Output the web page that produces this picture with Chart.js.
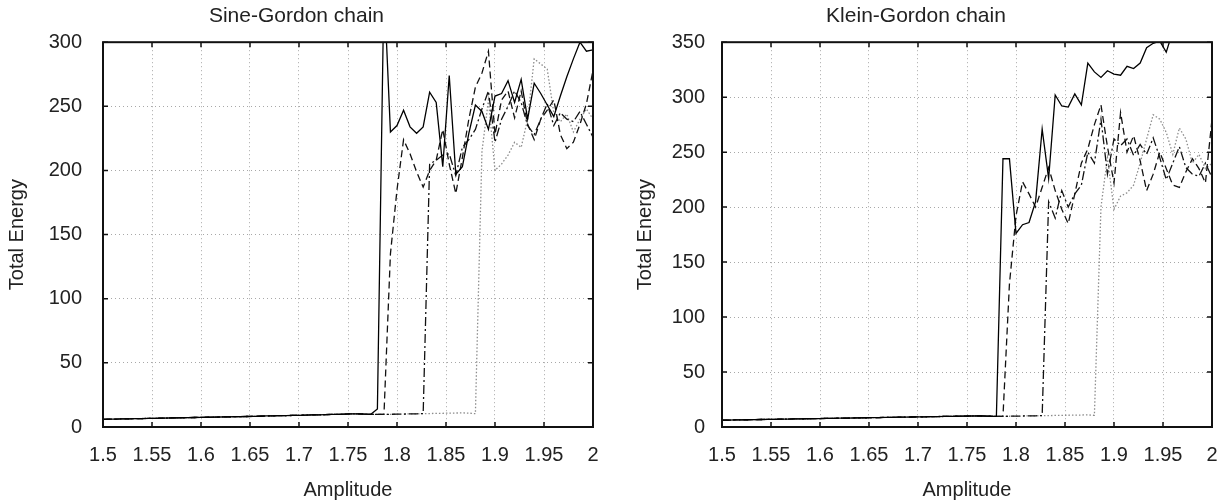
<!DOCTYPE html>
<html>
<head>
<meta charset="utf-8">
<script src="https://cdn.jsdelivr.net/npm/chart.js@4.4.0/dist/chart.umd.min.js"></script>
<style>
  html, body { margin: 0; padding: 0; background: #fff; overflow: hidden; }
  #wrap { position: relative; width: 1232px; height: 502px; overflow: hidden; }
  .panel { position: absolute; top: 0; }
  #sgBox { left: 0; }
  #kgBox { left: 620px; }
</style>
</head>
<body>
<div id="wrap">
  <div class="panel" id="sgBox"><canvas id="sgChart" width="674" height="502"></canvas></div>
  <div class="panel" id="kgBox"><canvas id="kgChart" width="666" height="502"></canvas></div>
</div>
<script>
// amplitude grid (shared by both panels)
const amplitude = [
  1.5, 1.5067, 1.5133, 1.52, 1.5267, 1.5333, 1.54, 1.5467, 1.5533, 1.56,
  1.5667, 1.5733, 1.58, 1.5867, 1.5933, 1.6, 1.6067, 1.6133, 1.62, 1.6267,
  1.6333, 1.64, 1.6467, 1.6533, 1.66, 1.6667, 1.6733, 1.68, 1.6867, 1.6933,
  1.7, 1.7067, 1.7133, 1.72, 1.7267, 1.7333, 1.74, 1.7467, 1.7533, 1.76,
  1.7667, 1.7733, 1.78, 1.7867, 1.7933, 1.8, 1.8067, 1.8133, 1.82, 1.8267,
  1.8333, 1.84, 1.8467, 1.8533, 1.86, 1.8667, 1.8733, 1.88, 1.8867, 1.8933,
  1.9, 1.9067, 1.9133, 1.92, 1.9267, 1.9333, 1.94, 1.9467, 1.9533, 1.96,
  1.9667, 1.9733, 1.98, 1.9867, 1.9933, 2.0
];
const xTicks = [1.5, 1.55, 1.6, 1.65, 1.7, 1.75, 1.8, 1.85, 1.9, 1.95, 2];

// low-amplitude energy, where all four curves lie on top of each other
const sgLow = [
  6.0, 6.1, 6.2, 6.3, 6.4, 6.5, 6.6, 6.7, 6.8, 6.9,
  7.0, 7.1, 7.2, 7.3, 7.4, 7.5, 7.6, 7.7, 7.8, 7.9,
  8.0, 8.1, 8.2, 8.3, 8.4, 8.6, 8.7, 8.8, 8.9, 9.0,
  9.1, 9.3, 9.4, 9.5, 9.6, 9.8, 9.9, 10.0, 10.2, 10.3,
  10.1, 9.9, 9.8, 9.8, 9.9, 10.0, 10.1, 10.2, 10.3, 10.4,
  10.5, 10.6, 10.7, 10.8, 10.9, 11.0, 10.8, 10.4
];
const kgLow = [
  6.2, 6.3, 6.4, 6.5, 6.6, 6.7, 6.8, 6.9, 7.0, 7.1,
  7.2, 7.3, 7.4, 7.5, 7.6, 7.7, 7.8, 7.9, 8.0, 8.1,
  8.2, 8.3, 8.4, 8.5, 8.6, 8.7, 8.8, 8.9, 9.0, 9.1,
  9.2, 9.3, 9.4, 9.5, 9.6, 9.7, 9.8, 9.9, 10.0, 10.1,
  10.0, 9.8, 9.7, 9.7, 9.8, 9.9, 10.0, 10.1, 10.2, 10.3,
  10.4, 10.5, 10.6, 10.7, 10.8, 10.9, 11.0, 10.6
];

// Sine-Gordon chain
const sgSolid = sgLow.slice(0, 42).concat([
  14, 345, 230, 235, 247, 234, 229, 234, 261, 253, 203, 274, 197, 203, 229, 251, 246,
  232, 258, 260, 270, 253, 271, 240, 268, 260, 251, 242, 258, 273, 287, 300, 293, 294
]);
const sgDash = sgLow.slice(0, 44).concat([
  135, 185, 224, 213, 199, 187, 200, 208, 232, 205, 182, 210, 240, 265, 276, 293,
  228, 255, 262, 241, 262, 236, 224, 240, 247, 255, 228, 217, 222, 236, 252, 278
]);
const sgDashDot = sgLow.slice(0, 50).concat([
  205, 208, 212, 213, 196, 218, 224, 232, 248, 262, 222, 240, 250,
  262, 253, 235, 228, 240, 252, 235, 245, 240, 238, 246, 236, 226
]);
const sgDot = sgLow.slice(0, 58).concat([
  215, 255, 200, 205, 212, 222, 218, 240, 287, 283, 279, 245, 238, 244, 230, 240, 248, 240
]);

// Klein-Gordon chain
const kgSolid = kgLow.slice(0, 43).concat([
  244, 244, 176, 184, 186, 205, 271, 226, 302, 292, 291, 303, 293, 331, 323, 318, 324,
  321, 320, 328, 326, 331, 345, 349, 351, 341, 360, 366, 371, 376, 381, 386, 392
]);
const kgDash = kgLow.slice(0, 44).concat([
  130, 192, 223, 212, 200, 218, 236, 215, 198, 185, 212, 240, 253, 275, 293, 255,
  222, 286, 250, 265, 242, 215, 230, 250, 235, 220, 218, 232, 244, 235, 222, 280
]);
const kgDashDot = kgLow.slice(0, 50).concat([
  205, 190, 215, 200, 212, 220, 250, 240, 280, 230, 262, 256, 262,
  247, 257, 248, 263, 245, 225, 240, 255, 236, 230, 228, 240, 227
]);
const kgDot = kgLow.slice(0, 58).concat([
  200, 245, 198, 210, 213, 220, 240, 262, 284, 280, 268, 248, 272, 262, 240, 248, 235, 240
]);

Chart.defaults.font.family = '"Liberation Sans", Arial, sans-serif';
Chart.defaults.font.size = 20;
Chart.defaults.color = '#222';

// box round the plot with little inward ticks on every side
const framePlugin = {
  id: 'frame',
  afterDatasetsDraw(chart) {
    const ctx = chart.ctx, a = chart.chartArea;
    const xs = chart.scales.x, ys = chart.scales.y;
    ctx.save();
    ctx.setLineDash([]);
    ctx.strokeStyle = '#111';
    ctx.lineWidth = 1.5;
    ctx.beginPath();
    xs.ticks.forEach(t => {
      const px = xs.getPixelForValue(t.value);
      ctx.moveTo(px, a.bottom); ctx.lineTo(px, a.bottom - 5);
      ctx.moveTo(px, a.top); ctx.lineTo(px, a.top + 5);
    });
    ys.ticks.forEach(t => {
      const py = ys.getPixelForValue(t.value);
      ctx.moveTo(a.left, py); ctx.lineTo(a.left + 5, py);
      ctx.moveTo(a.right, py); ctx.lineTo(a.right - 5, py);
    });
    ctx.stroke();
    ctx.lineWidth = 2;
    ctx.strokeRect(a.left, a.top, a.right - a.left, a.bottom - a.top);
    ctx.restore();
  }
};

function pts(vals) {
  return amplitude.map((a, i) => ({x: a, y: vals[i]}));
}

function makeChart(id, title, series, yMax, yAxisWidth, yPad, yTitlePad, rightPad) {
  const ctx = document.getElementById(id).getContext('2d');
  return new Chart(ctx, {
    type: 'line',
    data: {
      datasets: [
        {data: pts(series[0]), borderColor: '#000', borderWidth: 1.3},
        {data: pts(series[1]), borderColor: '#111', borderWidth: 1.3, borderDash: [7, 4]},
        {data: pts(series[2]), borderColor: '#111', borderWidth: 1.3, borderDash: [9, 3, 2, 3]},
        {data: pts(series[3]), borderColor: '#8c8c8c', borderWidth: 1.3, borderDash: [1.5, 2]}
      ]
    },
    options: {
      responsive: false,
      animation: false,
      events: [],
      layout: {padding: {left: 0, right: rightPad, top: 0, bottom: 0}},
      elements: {point: {radius: 0}, line: {tension: 0, fill: false}},
      plugins: {
        legend: {display: false},
        tooltip: {enabled: false},
        title: {
          display: true, text: title, color: '#222',
          font: {size: 21, weight: 'normal'},
          padding: {top: 4, bottom: 13}
        }
      },
      scales: {
        x: {
          type: 'linear', min: 1.5, max: 2,
          afterBuildTicks: s => { s.ticks = xTicks.map(v => ({value: v})); },
          afterFit: s => { s.height = 75; },
          ticks: {
            padding: 16, color: '#222', maxRotation: 0, autoSkip: false,
            callback: v => String(Number(v.toFixed(2)))
          },
          grid: {color: '#a8a8a8', lineWidth: 1, drawTicks: false},
          border: {display: false, dash: [1, 3]},
          title: {display: true, text: 'Amplitude', color: '#222', font: {size: 20}, padding: {top: 0, bottom: 0}}
        },
        y: {
          min: 0, max: yMax,
          afterFit: s => { s.width = yAxisWidth; },
          ticks: {stepSize: 50, padding: yPad, color: '#222'},
          grid: {color: '#a8a8a8', lineWidth: 1, drawTicks: false},
          border: {display: false, dash: [1, 3]},
          title: {display: true, text: 'Total Energy', color: '#222', font: {size: 20}, padding: {top: yTitlePad, bottom: 0}}
        }
      }
    },
    plugins: [framePlugin]
  });
}

makeChart('sgChart', 'Sine-Gordon chain', [sgSolid, sgDash, sgDashDot, sgDot], 300, 103, 21, 5, 81);
makeChart('kgChart', 'Klein-Gordon chain', [kgSolid, kgDash, kgDashDot, kgDot], 350, 102, 17, 13, 74);
</script>
</body>
</html>
